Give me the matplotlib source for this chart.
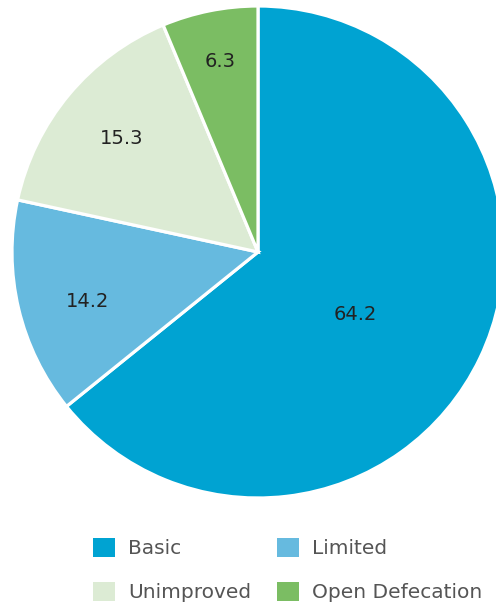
import matplotlib.pyplot as plt
from matplotlib.patches import Patch
import numpy as np

categories = ["Basic", "Limited", "Unimproved", "Open Defecation"]
values = [64.2, 14.2, 15.3, 6.3]
colors = ["#00a3d2", "#66badf", "#dcebd4", "#7bbd63"]
# how far from the centre each number sits (fraction of radius)
label_dist = [0.47, 0.72, 0.72, 0.79]
label_shift = [-7, 3, 0, 0]  # small angle nudges, degrees

fig = plt.figure(figsize=(4.96, 6.10), dpi=100)
ax = fig.add_axes([0, 0, 1, 1])

wedges, _ = ax.pie(values, colors=colors, startangle=90, counterclock=False,
                   radius=1, wedgeprops=dict(edgecolor="white", linewidth=2.3))

for w, v, d, s in zip(wedges, values, label_dist, label_shift):
    ang = np.deg2rad((w.theta1 + w.theta2) / 2 + s)
    ax.text(d * np.cos(ang), d * np.sin(ang), f"{v}", ha="center", va="center",
            fontsize=14, color="#222222")

# pie centre sits at (258, 252) px, radius 246 px
r = 246
ax.set_xlim(-258 / r, (496 - 258) / r)
ax.set_ylim(-(610 - 252) / r, 252 / r)
ax.set_aspect("equal")
ax.axis("off")

# legend is filled column by column, so reorder to read across rows
order = [0, 2, 1, 3]
handles = [Patch(facecolor=colors[i], edgecolor="none") for i in order]
ax.legend(handles, [categories[i] for i in order], ncol=2, frameon=False,
          fontsize=14.5, labelcolor="#555555", handlelength=1.1, handleheight=1.1,
          handletextpad=0.65, columnspacing=1.25, labelspacing=1.15,
          loc="center left", bbox_to_anchor=(93 / 496, 1 - 570 / 610),
          borderaxespad=0, borderpad=0)

fig.savefig("out.png", dpi=100)
